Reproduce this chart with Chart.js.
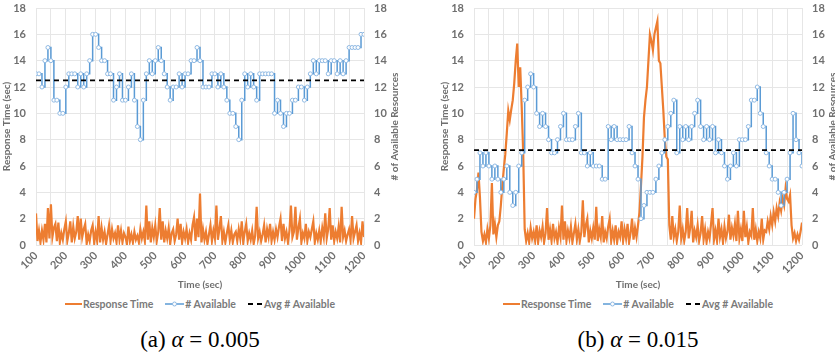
<!DOCTYPE html>
<html>
<head>
<meta charset="utf-8">
<script src="https://cdn.jsdelivr.net/npm/chart.js@4.4.1/dist/chart.umd.min.js"></script>
<style>
  body { margin: 0; width: 835px; height: 355px; overflow: hidden; position: relative; background: #fff; }
  .panel { position: absolute; top: 0; width: 417px; height: 295px; }
  .legend { position: absolute; top: 297px; width: 328px; height: 14px; display: flex; justify-content: center;
            align-items: center; font: bold 10.5px Lato, sans-serif; color: #7a7a7a; white-space: nowrap; }
  .legend span { display: flex; align-items: center; margin: 0 6px; }
  .legend svg { margin-right: 1px; }
  .caption { position: absolute; top: 327px; width: 328px; text-align: center;
             font: 23px "Liberation Serif", "DejaVu Serif", serif; color: #000; white-space: nowrap; }
</style>
</head>
<body>

<div class="panel" style="left:0"><canvas id="chartA" width="417" height="295"></canvas></div>
<div class="panel" style="left:438px"><canvas id="chartB" width="417" height="295"></canvas></div>

<div class="legend" style="left:36px">
  <span><svg width="17" height="8"><line x1="0" y1="4" x2="17" y2="4" stroke="#ed7d31" stroke-width="2"/></svg>Response Time</span>
  <span><svg width="19" height="8"><line x1="0" y1="4" x2="19" y2="4" stroke="#5b9bd5" stroke-width="1.5"/><circle cx="9.5" cy="4" r="2" fill="#fff" stroke="#8fb9e3"/></svg># Available</span>
  <span><svg width="15" height="8"><line x1="0" y1="4" x2="15" y2="4" stroke="#000" stroke-width="1.8" stroke-dasharray="5,4"/></svg>Avg # Available</span>
</div>
<div class="legend" style="left:474px">
  <span><svg width="17" height="8"><line x1="0" y1="4" x2="17" y2="4" stroke="#ed7d31" stroke-width="2"/></svg>Response Time</span>
  <span><svg width="19" height="8"><line x1="0" y1="4" x2="19" y2="4" stroke="#5b9bd5" stroke-width="1.5"/><circle cx="9.5" cy="4" r="2" fill="#fff" stroke="#8fb9e3"/></svg># Available</span>
  <span><svg width="15" height="8"><line x1="0" y1="4" x2="15" y2="4" stroke="#000" stroke-width="1.8" stroke-dasharray="5,4"/></svg>Avg # Available</span>
</div>

<div class="caption" style="left:36px">(a) <i>α</i> = 0.005</div>
<div class="caption" style="left:474px">(b) <i>α</i> = 0.015</div>

<script>
// time axis: seconds 100..1200
const T_MIN = 100, T_MAX = 1200;
const RT_STEP = 5;    // response time sampled every 5 s
const AV_STEP = 10;   // # available sampled every 10 s

// (a) alpha = 0.005
const responseA = [
  2.4,0.3,1.1,0.2,1.1,0.4,1.6,0.2,2.8,0.5,3.1,0.6,1.3,1.6,0.3,1.7,0.2,0.9,0.4,1.2,
  1.8,0.3,0.9,1.8,0.2,1.4,0.5,1.0,2.2,0.4,2.0,0.6,1.2,1.6,0.1,0.8,0.3,1.1,1.5,0.2,
  1.0,0.3,2.2,0.2,1.3,0.4,1.0,0.1,0.8,1.5,0.3,1.2,0.5,0.9,0.2,1.5,0.4,1.1,0.2,0.9,
  0.6,0.1,1.4,0.3,0.8,0.2,1.0,0.4,0.7,0.2,1.2,0.5,1.0,0.3,3.0,0.4,1.8,0.2,1.3,0.6,
  1.5,0.3,1.0,2.8,0.4,1.8,0.2,1.1,0.5,1.3,0.1,0.9,1.2,0.3,0.8,2.0,0.4,1.6,0.2,1.0,
  0.5,1.2,0.2,0.9,0.4,1.5,2.1,0.3,2.0,0.6,3.9,0.2,1.2,0.4,1.0,0.1,0.8,1.5,0.3,1.1,
  0.5,3.0,0.4,1.2,2.2,0.3,1.0,0.2,0.9,1.5,0.4,1.1,0.2,0.8,1.0,0.3,1.2,0.5,1.8,0.2,
  1.0,1.6,0.3,0.9,0.4,1.1,0.1,0.7,2.9,0.5,1.0,0.3,0.8,1.5,0.2,1.2,0.6,1.6,0.3,1.0,
  0.4,1.2,0.6,1.4,2.0,0.3,1.6,0.5,1.0,0.2,1.1,3.0,0.6,1.0,2.9,0.4,1.3,2.0,0.2,0.9,
  0.5,1.6,0.3,1.0,0.6,1.2,1.8,0.2,0.9,0.4,1.1,0.3,1.3,0.6,2.4,0.5,1.2,2.8,0.4,1.5,
  0.3,1.0,0.5,1.4,0.2,2.9,0.6,1.1,0.3,0.8,1.2,0.4,2.2,0.5,1.0,1.5,0.3,0.9,0.2,1.8,
  0.6
];
const availableA = [
  13,13,12,14,15,14,11,11,10,10,
  12,13,13,13,12,13,12,13,14,16,
  16,15,14,14,13,13,11,12,13,11,
  11,12,13,11,9,8,11,13,14,13,
  14,15,14,13,12,11,12,12,13,12,
  13,13,14,14,15,14,12,12,12,13,
  13,12,13,12,11,10,10,9,8,11,
  13,12,13,12,11,13,13,13,13,13,
  10,11,10,9,10,10,11,11,12,12,
  11,12,13,14,13,14,14,14,13,14,
  14,13,14,13,14,15,15,15,15,16,
  16
];
const avgA = 12.5;

// (b) alpha = 0.015
const responseB = [
  2.0,3.5,4.2,5.5,3.6,1.0,0.3,0.8,0.2,1.2,0.5,1.5,4.7,0.8,1.6,0.6,1.5,1.8,3.0,4.5,
  5.8,6.9,8.5,10.2,9.5,10.3,11.0,12.3,14.0,15.3,12.0,13.5,10.5,7.0,1.2,0.3,0.9,0.2,1.3,0.5,
  1.0,0.3,1.5,0.2,1.1,0.6,1.4,0.2,0.9,2.8,0.4,1.2,0.3,1.6,0.5,1.0,0.2,1.3,0.6,3.0,
  0.4,1.8,0.3,1.1,0.5,1.4,0.2,0.9,1.6,0.4,1.2,0.3,1.0,3.4,0.6,1.5,2.0,0.2,1.1,0.5,
  1.3,0.4,2.9,0.3,1.2,0.6,2.2,0.2,1.0,0.5,1.4,2.0,0.3,1.1,0.4,1.5,0.2,1.0,0.6,1.8,
  0.3,1.2,0.5,1.6,0.2,0.9,2.0,0.4,1.3,0.6,1.5,2.5,4.5,6.7,9.7,11.0,12.0,14.0,16.0,15.5,
  14.8,16.0,16.5,17.0,14.0,13.8,12.0,10.2,8.0,6.7,6.5,1.5,0.4,2.2,0.6,1.2,0.3,1.0,3.0,0.5,
  1.2,0.3,1.0,2.8,0.5,1.3,2.6,0.2,1.1,0.6,1.5,0.3,0.9,2.2,0.4,1.2,0.2,1.0,0.5,1.6,
  2.8,0.4,1.1,0.3,2.0,0.6,1.2,0.2,1.4,0.5,1.0,2.3,0.4,1.3,0.7,1.6,0.3,2.6,0.5,1.2,
  0.3,2.6,0.6,1.4,0.2,1.0,0.7,2.8,0.4,1.2,0.3,1.0,0.5,2.0,0.4,1.1,1.0,1.8,1.2,2.2,
  1.5,2.5,1.8,2.8,2.2,3.2,2.6,3.5,3.0,4.3,3.5,3.3,3.8,1.5,0.5,0.9,0.3,0.8,0.4,1.0,
  1.7
];
const availableB = [
  4,5,7,6,7,6,5,6,5,4,
  5,6,4,3,4,6,7,11,12,13,
  12,10,9,10,9,8,7,7,8,9,
  10,8,8,8,9,10,7,7,6,7,
  6,6,6,5,5,9,8,9,8,8,
  8,8,9,7,6,5,2,3,4,4,
  4,5,6,7,8,9,10,11,7,9,
  8,9,8,9,10,11,9,8,9,8,
  9,7,8,7,6,5,6,7,6,8,
  8,8,9,11,11,12,10,9,7,6,
  5,5,4,3,4,5,7,10,8,7,
  6
];
const avgB = 7.2;

const yTicks = [0, 18, 2];   // min, max, step

const GREY = '#6f6f6f';
const tickFont = { family: 'Lato', size: 11, weight: 'bold' };
const titleFont = { family: 'Lato', size: 10, weight: 'bold' };

const rightTitle = {
  id: 'rightTitle',
  afterDraw(chart) {
    const { ctx, chartArea } = chart;
    ctx.save();
    ctx.translate(chartArea.right + 31, (chartArea.top + chartArea.bottom) / 2);
    ctx.rotate(-Math.PI / 2);
    ctx.font = 'bold 10px Lato';
    ctx.fillStyle = GREY;
    ctx.textAlign = 'center';
    ctx.textBaseline = 'middle';
    ctx.fillText('# of Available Resources', 0, 0);
    ctx.restore();
  }
};

// keep the y tick padding from pushing the plot area down
function fixY(width) {
  return s => { s.width = width; s.paddingTop = 0; s.paddingBottom = 0; };
}

function plot(id, response, available, avg) {
  const rtPoints = response.map((v, i) => ({ x: T_MIN + i * RT_STEP, y: v }));
  const avPoints = available.map((v, i) => ({ x: T_MIN + i * AV_STEP, y: v }));

  new Chart(document.getElementById(id), {
    type: 'line',
    data: {
      datasets: [{
        label: 'Response Time',
        data: rtPoints,
        yAxisID: 'y',
        borderColor: '#ed7d31',
        borderWidth: 2.2,
        pointRadius: 0,
        order: 3
      }, {
        label: '# Available',
        data: avPoints,
        yAxisID: 'y2',
        stepped: true,
        borderColor: '#5b9bd5',
        borderWidth: 1.5,
        pointRadius: 2,
        pointBorderWidth: 1,
        pointBorderColor: '#8fb9e3',
        pointBackgroundColor: '#fff',
        order: 2
      }, {
        label: 'Avg # Available',
        data: [{ x: T_MIN, y: avg }, { x: T_MAX, y: avg }],
        yAxisID: 'y2',
        borderColor: '#000',
        borderWidth: 1.8,
        borderDash: [5, 4],
        pointRadius: 0,
        order: 1
      }]
    },
    options: {
      responsive: false,
      animation: false,
      devicePixelRatio: 1,
      layout: { padding: { top: 8, left: 0, right: 0, bottom: 0 } },
      plugins: { legend: { display: false }, tooltip: { enabled: false } },
      scales: {
        x: {
          type: 'linear',
          min: T_MIN,
          max: T_MAX,
          afterFit(s) { s.height = 50; },
          grid: { color: '#e6e6e6', drawTicks: false },
          border: { display: false },
          ticks: {
            stepSize: 50,
            autoSkip: false,
            minRotation: 45,
            maxRotation: 45,
            padding: 4,
            font: tickFont,
            color: GREY,
            callback: v => (v % 100 === 0 ? String(v) : '')
          },
          title: { display: true, text: 'Time (sec)', font: titleFont, color: GREY, padding: { top: 0, bottom: 4 } }
        },
        y: {
          position: 'left',
          min: yTicks[0],
          max: yTicks[1],
          afterFit: fixY(36),
          grid: { color: '#e6e6e6', drawTicks: false },
          border: { display: false },
          ticks: { stepSize: yTicks[2], padding: 10, font: tickFont, color: GREY },
          title: { display: true, text: 'Response Time (sec)', font: titleFont, color: GREY, padding: 1 }
        },
        y2: {
          position: 'right',
          min: yTicks[0],
          max: yTicks[1],
          afterFit: fixY(53),
          grid: { display: false, drawTicks: false },
          border: { display: false },
          ticks: { stepSize: yTicks[2], padding: 10, font: tickFont, color: GREY }
        }
      }
    },
    plugins: [rightTitle]
  });
}

plot('chartA', responseA, availableA, avgA);
plot('chartB', responseB, availableB, avgB);
</script>
</body>
</html>
